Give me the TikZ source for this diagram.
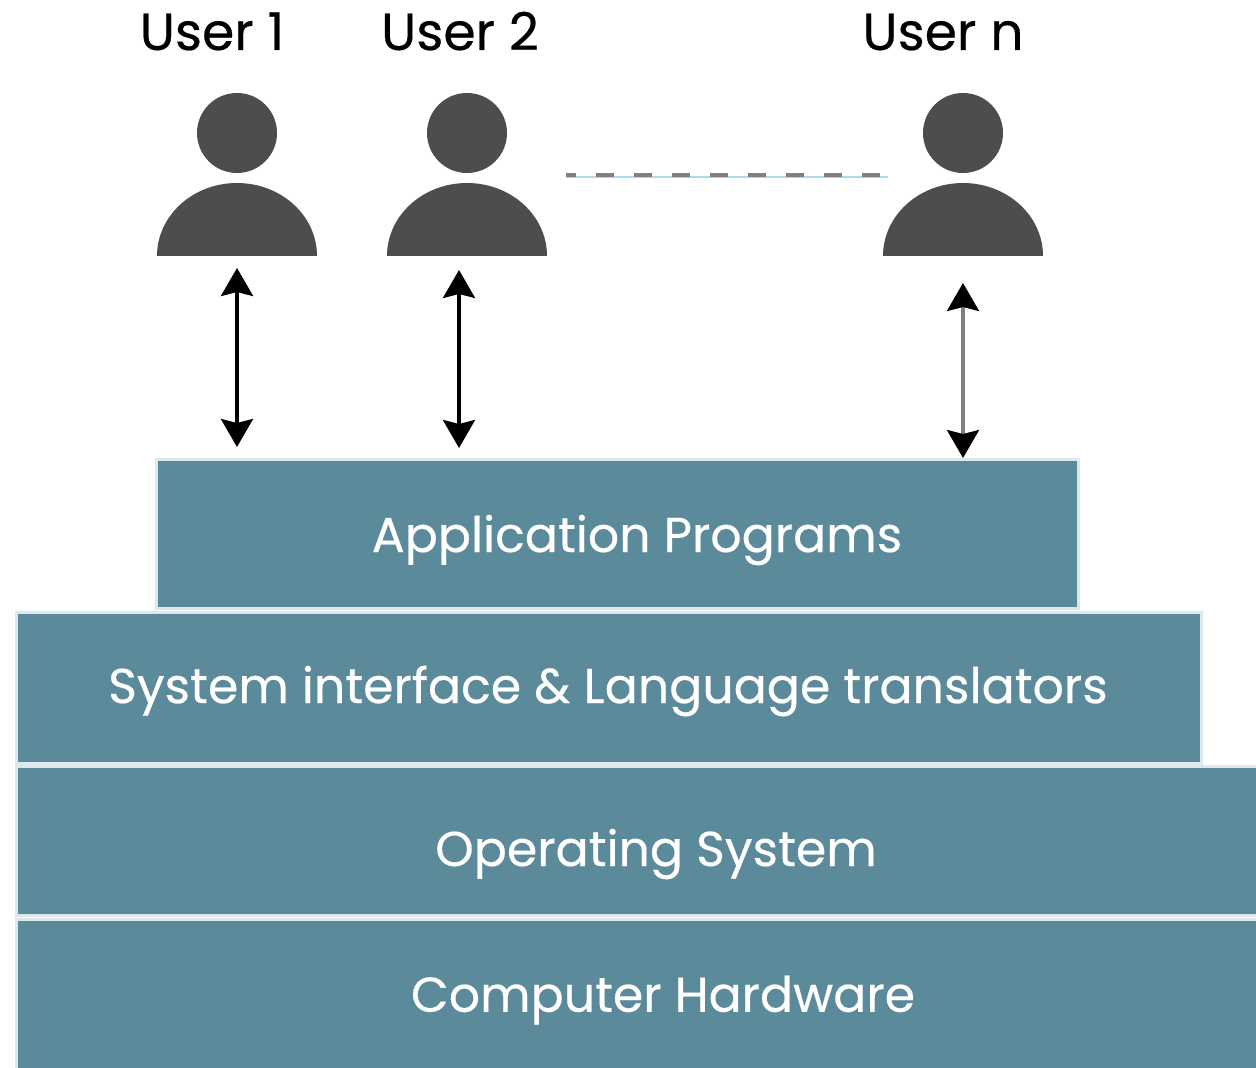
\documentclass[tikz,border=0pt]{standalone}
\usepackage{xcolor}
\usepackage{fontspec}
\setmainfont{Poppins}
\usetikzlibrary{arrows.meta}

\definecolor{person}{HTML}{4D4D4F}
\definecolor{layerfill}{HTML}{5B8A9A}
\definecolor{layerline}{HTML}{DCE8EC}
\definecolor{dashgray}{HTML}{7F7F7F}
\definecolor{dashblue}{HTML}{ADD8EE}

\newfontfamily\layerfont{Poppins}[FakeBold=0.4]

\begin{document}
\begin{tikzpicture}[x=0.5pt,y=0.5pt,
    head/.style={circle,fill=person,minimum size=40pt,inner sep=0pt},
    layer/.style={rectangle,fill=layerfill,draw=layerline,line width=1.5pt,anchor=south west,inner sep=0pt},
    layertext/.style={text=white,font=\layerfont\fontsize{24.5}{30}\selectfont},
    userlabel/.style={anchor=base,font=\layerfont\fontsize{26}{31}\selectfont},
    link/.style={line width=1.8pt,{Stealth[width=16pt,length=14pt,inset=2pt,black]}-{Stealth[width=16pt,length=14pt,inset=2pt,black]}}]
          %page
          \useasboundingbox (0,0) rectangle (1256,1067);
          \clip (0,0) rectangle (1256,1067);

          %users
          \foreach \x/\lx/\n in {237/212/1,467/460/2,963/943/n}{
            \node[userlabel] (label\n) at (\lx,1017) {User \n};
            \node[head] (head\n) at (\x,934) {};
            \coordinate (body\n) at (\x,811);
            \fill[person] (\x-80,811) arc[start angle=180,end angle=0,x radius=80,y radius=73] -- cycle;
          }

          %dots between user 2 and user n
          \coordinate (dots1) at (566,892);
          \coordinate (dots2) at (888,892);
          \draw[dashblue,line width=0.6pt] ([yshift=-1pt]dots1) -- ([yshift=-1pt]dots2);
          \draw[dashgray,line width=2pt,dash pattern=on 9pt off 10pt,dash phase=4pt] (dots1) -- (dots2);

          %layers
          \node[layer,minimum width=461pt,minimum height=74.5pt] (app) at (155,457) {};
          \node[layer,minimum width=592.5pt,minimum height=75.5pt] (sys) at (15,302) {};
          \node[layer,minimum width=641pt,minimum height=74.5pt] (os) at (15,150) {};
          \node[layer,minimum width=641pt,minimum height=78pt] (hw) at (15,-10) {};

          \node[layertext] (apptext) at (637,527) {Application Programs};
          \node[layertext] (systext) at (608,376) {System interface \& Language translators};
          \node[layertext] (ostext) at (656,213) {Operating System};
          \node[layertext] (hwtext) at (663,67) {Computer Hardware};

          %arrows
          \draw[link] ([yshift=-6pt]body1) -- ([yshift=5.5pt]app.north -| body1);
          \draw[link] ([xshift=-4pt,yshift=-7pt]body2) -- ([xshift=-4pt,yshift=5pt]app.north -| body2);
          \draw[link,dashgray] ([yshift=-13.5pt]bodyn) -- (app.north -| bodyn);
\end{tikzpicture}
\end{document}
